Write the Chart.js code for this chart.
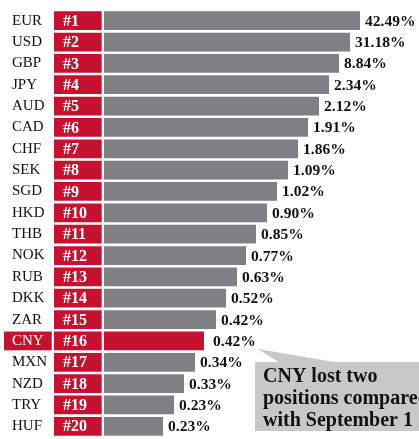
<!DOCTYPE html>
<html>
<head>
<meta charset="utf-8">
<script src="https://cdn.jsdelivr.net/npm/chart.js@4/dist/chart.umd.min.js"></script>
<style>
  html, body { margin: 0; padding: 0; background: #fff; overflow: hidden; }
  #wrap { width: 419px; height: 446px; }
</style>
</head>
<body>
<div id="wrap"><canvas id="chart_canvas"></canvas></div>
<script>
  // currencies by rank, share of payments
  const currencies = ['EUR', 'USD', 'GBP', 'JPY', 'AUD', 'CAD', 'CHF', 'SEK', 'SGD', 'HKD',
    'THB', 'NOK', 'RUB', 'DKK', 'ZAR', 'CNY', 'MXN', 'NZD', 'TRY', 'HUF'];
  const ranks = ['#1', '#2', '#3', '#4', '#5', '#6', '#7', '#8', '#9', '#10',
    '#11', '#12', '#13', '#14', '#15', '#16', '#17', '#18', '#19', '#20'];
  const shares = ['42.49%', '31.18%', '8.84%', '2.34%', '2.12%', '1.91%', '1.86%', '1.09%', '1.02%', '0.90%',
    '0.85%', '0.77%', '0.63%', '0.52%', '0.42%', '0.42%', '0.34%', '0.33%', '0.23%', '0.23%'];
  // bar lengths as drawn in the graphic (rank bars, not to scale with share)
  const barLength = [256, 246, 235, 225, 215, 204, 194, 184, 173, 163,
    152, 142, 133, 122, 112, 100, 91, 80, 70, 59];
  const highlight = 'CNY';
  const note = ['CNY lost two', 'positions compared', 'with September 1'];

  const RED = '#c41230';
  const GREY = '#808083';

  const rankBoxes = currencies.map(() => [-50, -2.3]);
  const isHi = (i) => currencies[i] === highlight;

  const labelPlugin = {
    id: 'labels',
    beforeDraw(chart) {
      const ctx = chart.ctx;
      const bar = chart.getDatasetMeta(1).data[currencies.indexOf(highlight)];
      ctx.save();
      ctx.fillStyle = RED;
      ctx.fillRect(4, bar.y - bar.height / 2, 47.7, bar.height);
      ctx.restore();
    },
    afterDatasetsDraw(chart) {
      const ctx = chart.ctx;
      ctx.save();
      ctx.textBaseline = 'middle';
      // rank numbers
      ctx.fillStyle = '#fff';
      ctx.font = 'bold 16px "Liberation Serif", serif';
      chart.getDatasetMeta(0).data.forEach((el, i) => {
        ctx.fillText(ranks[i], 63, el.y + 1);
      });
      // share labels
      ctx.fillStyle = '#111';
      ctx.font = 'bold 15.5px "Liberation Serif", serif';
      chart.getDatasetMeta(1).data.forEach((el, i) => {
        ctx.fillText(shares[i], el.x + (isHi(i) ? 9 : 5), el.y + 1);
      });

      // callout
      ctx.fillStyle = '#c8c8c8';
      ctx.beginPath();
      ctx.moveTo(258, 349);
      ctx.lineTo(340, 363);
      ctx.lineTo(280, 363);
      ctx.closePath();
      ctx.fill();
      ctx.fillRect(255, 362, 170, 69);
      ctx.fillStyle = '#111';
      ctx.textBaseline = 'alphabetic';
      ctx.font = 'bold 20px "Liberation Serif", serif';
      note.forEach((line, k) => {
        ctx.fillText(line, 263, 382 + k * 22);
      });
      ctx.restore();
    }
  };

  const ctx = document.getElementById('chart_canvas');
  const chart = new Chart(ctx, { // eslint-disable-line no-unused-vars
    type: 'bar',
    data: {
      labels: currencies,
      datasets: [{
        label: 'Rank',
        data: rankBoxes,
        backgroundColor: RED
      }, {
        label: 'Share',
        data: barLength,
        backgroundColor: currencies.map((c) => c === highlight ? RED : GREY)
      }]
    },
    options: {
      indexAxis: 'y',
      responsive: true,
      maintainAspectRatio: false,
      animation: false,
      layout: { padding: { top: 10, left: 12, right: 0, bottom: 2.6 } },
      datasets: {
        bar: { grouped: false, categoryPercentage: 1, barPercentage: 0.877, borderWidth: 0 }
      },
      plugins: { legend: { display: false }, tooltip: { enabled: false } },
      scales: {
        x: { display: false, min: -50, max: 315 },
        y: {
          afterFit(scale) { scale.width = 42; },
          grid: { display: false },
          border: { display: false },
          ticks: {
            crossAlign: 'far',
            padding: 0,
            autoSkip: false,
            color: (c) => isHi(c.index) ? '#fff' : '#111',
            font: { family: '"Liberation Serif", serif', size: 15 }
          }
        }
      }
    },
    plugins: [labelPlugin]
  });
</script>
</body>
</html>
